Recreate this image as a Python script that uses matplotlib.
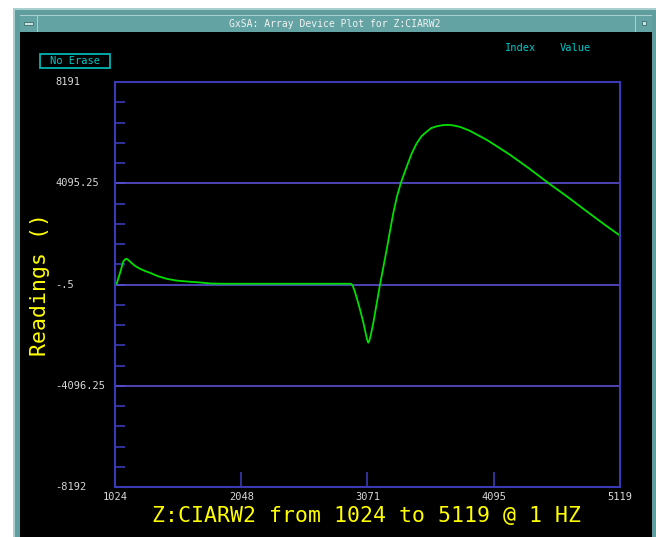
import matplotlib
matplotlib.use("Agg")
import matplotlib.pyplot as plt
from matplotlib.patches import Rectangle
from matplotlib.transforms import blended_transform_factory
import numpy as np

# readings of Z:CIARW2, index vs value
index = [1024, 1038, 1065, 1092, 1110, 1119, 1135, 1160, 1190, 1227, 1270, 1308,
         1370, 1443, 1520, 1605, 1713, 1800, 1900, 2936, 2950, 2965, 2984, 3010,
         3038, 3060, 3070, 3078, 3086, 3098, 3119, 3145, 3173, 3200, 3227, 3250,
         3281, 3310, 3341, 3390, 3430, 3471, 3510, 3552, 3590, 3633, 3680, 3719,
         3760, 3822, 3900, 3960, 4038, 4130, 4227, 4380, 4538, 4700, 4849, 5000,
         5119]
value = [0, 40, 470, 940, 1030, 1040, 980, 860, 740, 633, 540, 472,
         340, 230, 160, 121, 81, 40, 30, 30, -30, -230, -537, -1000,
         -1545, -2050, -2260, -2353, -2280, -2050, -1545, -800, 0, 700, 1412, 2060,
         2893, 3550, 4095, 4773, 5300, 5717, 6000, 6186, 6330, 6400, 6445, 6456,
         6440, 6375, 6220, 6060, 5851, 5560, 5246, 4700, 4104, 3520, 2958, 2400,
         1977]

y_labels = ["8191", "4095.25", "-.5", "-4096.25", "-8192"]
y_label_vals = [8191, 4095.25, -0.5, -4096.25, -8192]
x_ticks = [1024, 2048, 3071, 4095, 5119]
grid_vals = [4095.25, -0.5, -4096.25]

W, H = 656, 537
fig = plt.figure(figsize=(W / 100, H / 100), dpi=100, facecolor="white")


# pixel coords (top-left origin) -> figure fraction
def fx(px):
    return px / W


def fy(py):
    return 1 - py / H


def prect(x0, y0, x1, y1, **kw):
    fig.patches.append(Rectangle((fx(x0), fy(y1)), fx(x1) - fx(x0), fy(y0) - fy(y1),
                                 transform=fig.transFigure, figure=fig, **kw))


# window frame
prect(13, 8, 656, 537, facecolor="#5f9d9e", edgecolor="none")
prect(13, 8, 656, 10, facecolor="#a9cfcf", edgecolor="none")
prect(13, 8, 15, 537, facecolor="#a9cfcf", edgecolor="none")
prect(20, 15, 652, 32, facecolor="#63a3a3", edgecolor="none")
prect(20, 15, 652, 16, facecolor="#a9cfcf", edgecolor="none")
prect(37, 15, 38, 32, facecolor="#a9cfcf", edgecolor="none")
prect(635, 15, 636, 32, facecolor="#a9cfcf", edgecolor="none")
prect(24, 22, 33, 25, facecolor="#c8e2e2", edgecolor="#3d6f6f", linewidth=0.6)
prect(642, 21, 646, 25, facecolor="#c8e2e2", edgecolor="#3d6f6f", linewidth=0.6)
prect(20, 32, 652, 537, facecolor="black", edgecolor="none")

fig.text(fx(335), fy(24), "GxSA: Array Device Plot for Z:CIARW2", color="#f2f2f2",
         fontsize=7, family="DejaVu Sans Mono", ha="center", va="center")

# "No Erase" button and header
prect(40, 54, 110, 68, facecolor="none", edgecolor="#00b4b4", linewidth=1.3)
fig.text(fx(75), fy(61.5), "No Erase", color="#00c8c8", fontsize=7.5,
         family="DejaVu Sans Mono", ha="center", va="center")
fig.text(fx(521), fy(48), "Index", color="#00c8c8", fontsize=7.5,
         family="DejaVu Sans Mono", ha="center", va="center")
fig.text(fx(575), fy(48), "Value", color="#00c8c8", fontsize=7.5,
         family="DejaVu Sans Mono", ha="center", va="center")

# plot area
ax = fig.add_axes([fx(115), fy(487), fx(620) - fx(115), fy(82) - fy(487)])
ax.set_zorder(5)
ax.set_facecolor("black")
ax.set_xlim(1024, 5119)
ax.set_ylim(-8192, 8191)
for s in ax.spines.values():
    s.set_color("#3a3ab4")
    s.set_linewidth(1.5)

step = (8191 - (-8192)) / 20
ax.set_yticks([-8192 + k * step for k in range(1, 20)])
ax.set_xticks(x_ticks[1:-1])
ax.tick_params(axis="y", direction="in", length=7.5, width=1.2, color="#3a3ab4",
               labelleft=False, right=False)
ax.tick_params(axis="x", direction="in", length=11, width=1.2, color="#3a3ab4",
               labelbottom=False, top=False)

for g in grid_vals:
    ax.axhline(g, color="#5b50d0", linewidth=1.2)

ax.plot(index, value, color="#00e000", linewidth=1.3)

# tick labels
tr = blended_transform_factory(fig.transFigure, ax.transData)
for lab, v in zip(y_labels, y_label_vals):
    ax.text(fx(55), v, lab, transform=tr, color="#d8d8d8", fontsize=7.5,
            family="DejaVu Sans Mono", ha="left", va="center", clip_on=False)
trx = blended_transform_factory(ax.transData, fig.transFigure)
for t in x_ticks:
    ax.text(t, fy(497), str(t), transform=trx, color="#d8d8d8", fontsize=7.5,
            family="DejaVu Sans Mono", ha="center", va="center", clip_on=False)

fig.text(fx(366), fy(516), "Z:CIARW2 from 1024 to 5119 @ 1 HZ", color="#ffff00",
         fontsize=15.5, family="DejaVu Sans Mono", ha="center", va="center")
fig.text(fx(40), fy(285), "Readings ()", color="#ffff00", rotation=90,
         fontsize=15.5, family="DejaVu Sans Mono", ha="center", va="center")

fig.savefig("out.png", dpi=100, facecolor="white")
